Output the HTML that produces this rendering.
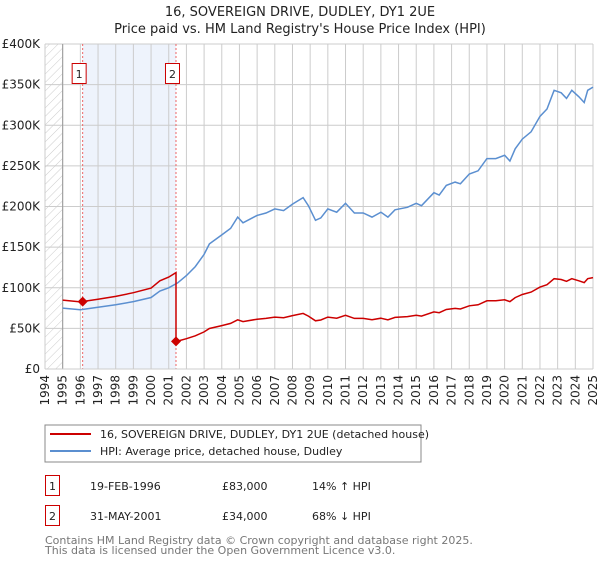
<!DOCTYPE html>
<html><head><meta charset="utf-8"><style>
body{margin:0;background:#fff;font-family:"Liberation Sans","DejaVu Sans",sans-serif;}
svg text{font-family:"DejaVu Sans","Liberation Sans",sans-serif;}
</style></head><body>
<svg id="c" width="600" height="560" xmlns="http://www.w3.org/2000/svg">
<defs><pattern id="hatch" width="6" height="6" patternUnits="userSpaceOnUse" patternTransform="rotate(45)"><line x1="0" y1="0" x2="0" y2="6" stroke="#ccc" stroke-width="1"/></pattern></defs>
<text x="300" y="16" text-anchor="middle" font-size="13" fill="#222">16, SOVEREIGN DRIVE, DUDLEY, DY1 2UE</text>
<text x="300" y="33" text-anchor="middle" font-size="13" fill="#222">Price paid vs. HM Land Registry's House Price Index (HPI)</text>
<g id="plot"></g>
<rect x="45" y="425" width="376" height="37" fill="#fff" stroke="#888"/>
<line x1="50" y1="434" x2="91" y2="434" stroke="#cc0000" stroke-width="2"/>
<text x="100" y="438" font-size="11" fill="#222">16, SOVEREIGN DRIVE, DUDLEY, DY1 2UE (detached house)</text>
<line x1="50" y1="451" x2="91" y2="451" stroke="#5b8fd0" stroke-width="2"/>
<text x="100" y="455" font-size="11" fill="#222">HPI: Average price, detached house, Dudley</text>
<rect x="45.5" y="475.5" width="14" height="20" fill="#fff" stroke="#cc0000"/>
<text x="52.5" y="490" text-anchor="middle" font-size="11" fill="#222">1</text>
<text x="90" y="490" font-size="11" fill="#222">19-FEB-1996</text>
<text x="222" y="490" font-size="11" fill="#222">£83,000</text>
<text x="312" y="490" font-size="11" fill="#222">14% ↑ HPI</text>
<rect x="45.5" y="505.5" width="14" height="20" fill="#fff" stroke="#cc0000"/>
<text x="52.5" y="520" text-anchor="middle" font-size="11" fill="#222">2</text>
<text x="90" y="520" font-size="11" fill="#222">31-MAY-2001</text>
<text x="222" y="520" font-size="11" fill="#222">£34,000</text>
<text x="312" y="520" font-size="11" fill="#222">68% ↓ HPI</text>
<text x="45" y="544" font-size="11" fill="#777">Contains HM Land Registry data © Crown copyright and database right 2025.</text>
<text x="45" y="554" font-size="11" fill="#777">This data is licensed under the Open Government Licence v3.0.</text>
</svg>
<script>
const hpiYears=[1995,1996,1997,1998,1999,2000,2000.5,2001,2001.5,2002,2002.5,2003,2003.3,2004,2004.5,2004.9,2005.2,2006,2006.5,2007,2007.5,2008,2008.6,2008.9,2009.3,2009.6,2010,2010.5,2011,2011.5,2012,2012.5,2013,2013.4,2013.8,2014.5,2015,2015.3,2016,2016.3,2016.7,2017.2,2017.5,2018,2018.5,2019,2019.5,2020,2020.3,2020.6,2021,2021.5,2022,2022.4,2022.8,2023.2,2023.5,2023.8,2024.2,2024.5,2024.7,2025];
const hpiValues=[75,73,76,79,83,88,96,100,106,115,126,141,154,165,173,187,180,189,192,197,195,203,211,201,183,186,197,193,204,192,192,187,193,187,196,199,204,201,217,214,226,230,228,240,244,259,259,263,256,271,283,292,311,320,343,340,333,343,335,328,343,347];
const saleYears=[1996.13,2001.41];
const salePrices=[83,34];
const yTicks=[0,50,100,150,200,250,300,350,400];
const yTickLabels=["£0","£50K","£100K","£150K","£200K","£250K","£300K","£350K","£400K"];
const xTicks=[1994,1995,1996,1997,1998,1999,2000,2001,2002,2003,2004,2005,2006,2007,2008,2009,2010,2011,2012,2013,2014,2015,2016,2017,2018,2019,2020,2021,2022,2023,2024,2025];
const X0=45,X1=593,Y0=369,Y1=44;
const xs=y=>X0+(y-1994)*(X1-X0)/31;
const ys=v=>Y0-v*(Y0-Y1)/400;
const NS="http://www.w3.org/2000/svg";
const g=document.getElementById('plot');
function mk(t,a,p){const e=document.createElementNS(NS,t);for(const k in a)e.setAttribute(k,a[k]);(p||g).appendChild(e);return e;}
function hpiAt(t){for(let i=0;i<hpiYears.length-1;i++){if(t<=hpiYears[i+1]){const f=(t-hpiYears[i])/(hpiYears[i+1]-hpiYears[i]);return hpiValues[i]+f*(hpiValues[i+1]-hpiValues[i]);}}return hpiValues[hpiValues.length-1];}
let e;
e=mk('rect',{x:X0,y:Y1,width:xs(1995)-X0,height:Y0-Y1,fill:'url(#hatch)'});


e=mk('rect',{x:xs(saleYears[0]),y:Y1,width:xs(saleYears[1])-xs(saleYears[0]),height:Y0-Y1,fill:'#eef3fc'});


yTicks.forEach((v,i)=>{
 e=mk('line',{x1:X0,x2:X1,y1:ys(v),y2:ys(v),stroke:'#ccc','stroke-width':1});
 
 
 e=mk('text',{x:40,y:ys(v)+4,'text-anchor':'end','font-size':12,fill:'#222'});
 e.textContent=yTickLabels[i];
 
 
});
xTicks.forEach(y=>{
 e=mk('line',{x1:xs(y),x2:xs(y),y1:Y1,y2:Y0,stroke:'#ccc','stroke-width':1});
 
 
 e=mk('text',{x:0,y:0,'text-anchor':'end','font-size':12,fill:'#222',transform:`translate(${xs(y)+4},${Y0+6}) rotate(-90)`});
 e.textContent=y;
 
 
});
e=mk('line',{x1:xs(1995),x2:xs(1995),y1:Y1,y2:Y0,stroke:'#999','stroke-width':1});


saleYears.forEach((s,i)=>{
 e=mk('line',{x1:xs(s),x2:xs(s),y1:Y1,y2:Y0,stroke:'#e66','stroke-width':1,'stroke-dasharray':'2,2'});
 
 
 const bx=xs(s)-10;
 e=mk('rect',{x:bx-0.5,y:63.5,width:14,height:20,fill:'#fff',stroke:'#cc0000'});
 
 
 e=mk('text',{x:bx+6.5,y:78,'text-anchor':'middle','font-size':11,fill:'#222'});
 e.textContent=String(i+1);
 
 
});
// HPI line
let d=hpiYears.map((t,i)=>(i?'L':'M')+xs(t).toFixed(1)+','+ys(hpiValues[i]).toFixed(1)).join('');
e=mk('path',{d:d,fill:'none',stroke:'#5b8fd0','stroke-width':1.5});


// property line: indexed from each sale
let pts=[];
const r0=salePrices[0]/hpiAt(saleYears[0]),r1=salePrices[1]/hpiAt(saleYears[1]);
hpiYears.forEach((t,i)=>{if(t<saleYears[1])pts.push([t,hpiValues[i]*r0]);});
pts.push([saleYears[1],hpiAt(saleYears[1])*r0]);
pts.push([saleYears[1],salePrices[1]]);
hpiYears.forEach((t,i)=>{if(t>saleYears[1])pts.push([t,hpiValues[i]*r1]);});
d=pts.map((p,i)=>(i?'L':'M')+xs(p[0]).toFixed(1)+','+ys(p[1]).toFixed(1)).join('');
e=mk('path',{d:d,fill:'none',stroke:'#cc0000','stroke-width':1.5});


saleYears.forEach((s,i)=>{
 const cx=xs(s),cy=ys(salePrices[i]);
 e=mk('path',{d:`M${cx},${cy-5}L${cx+5},${cy}L${cx},${cy+5}L${cx-5},${cy}Z`,fill:'#cc0000'});
 
 
});
e=mk('line',{x1:X0,x2:X1,y1:Y0,y2:Y0,stroke:'#ccc'});


</script>
</body></html>
